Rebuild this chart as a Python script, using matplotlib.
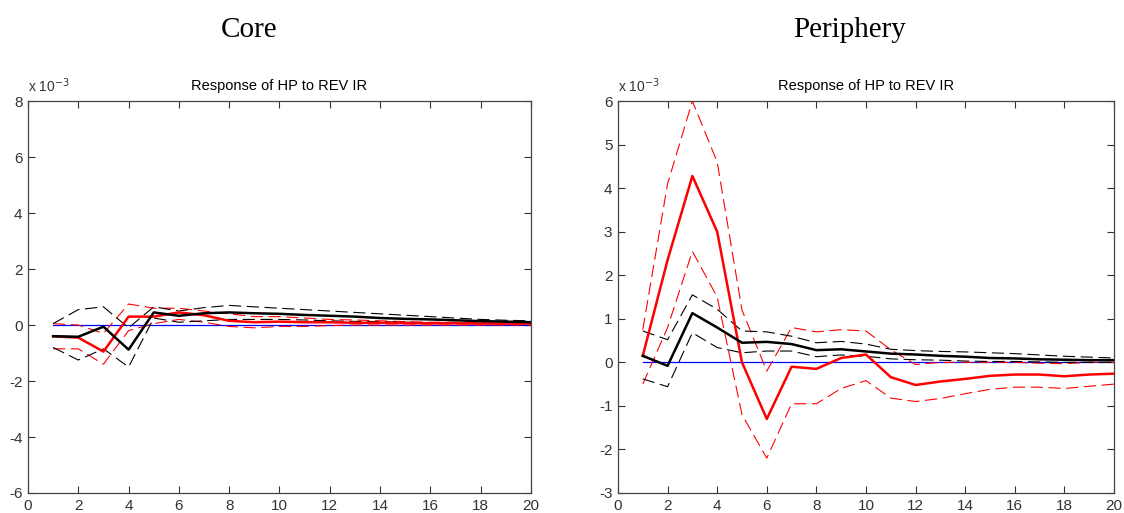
import numpy as np
import matplotlib.pyplot as plt

plt.rcParams['font.family'] = ['Liberation Sans', 'DejaVu Sans']
plt.rcParams['axes.unicode_minus'] = False

horizon = np.arange(1, 21)

# Core (values in units of 1e-3)
core_black = [-0.4, -0.42, -0.06, -0.88, 0.45, 0.33, 0.42, 0.45, 0.42, 0.4,
              0.36, 0.33, 0.3, 0.25, 0.22, 0.2, 0.17, 0.14, 0.12, 0.1]
core_black_hi = [0.05, 0.55, 0.65, -0.1, 0.65, 0.5, 0.62, 0.7, 0.65, 0.6,
                 0.55, 0.5, 0.45, 0.4, 0.35, 0.3, 0.25, 0.2, 0.17, 0.15]
core_black_lo = [-0.8, -1.25, -0.85, -1.5, 0.25, 0.1, 0.15, 0.2, 0.2, 0.2,
                 0.18, 0.15, 0.13, 0.12, 0.1, 0.08, 0.07, 0.06, 0.05, 0.05]
core_red = [-0.4, -0.45, -0.95, 0.3, 0.3, 0.45, 0.35, 0.15, 0.1, 0.12,
            0.1, 0.1, 0.08, 0.08, 0.07, 0.06, 0.06, 0.05, 0.05, 0.05]
core_red_hi = [0.05, 0.0, -0.3, 0.75, 0.6, 0.6, 0.5, 0.4, 0.3, 0.3,
               0.25, 0.2, 0.18, 0.15, 0.12, 0.1, 0.1, 0.08, 0.08, 0.07]
core_red_lo = [-0.85, -0.85, -1.4, -0.2, 0.05, 0.2, 0.1, -0.05, -0.1, -0.05,
               -0.05, -0.02, 0.0, 0.0, 0.0, 0.0, 0.0, 0.0, 0.0, 0.0]

# Periphery (values in units of 1e-3)
peri_black = [0.15, -0.08, 1.13, 0.8, 0.45, 0.47, 0.42, 0.28, 0.3, 0.25,
              0.2, 0.18, 0.15, 0.13, 0.1, 0.09, 0.07, 0.06, 0.05, 0.05]
peri_black_hi = [0.72, 0.52, 1.55, 1.22, 0.72, 0.7, 0.6, 0.45, 0.48, 0.42,
                 0.3, 0.27, 0.25, 0.24, 0.22, 0.2, 0.17, 0.14, 0.12, 0.1]
peri_black_lo = [-0.38, -0.56, 0.68, 0.34, 0.22, 0.26, 0.26, 0.13, 0.17, 0.14,
                 0.08, 0.06, 0.05, 0.03, 0.02, 0.02, 0.01, 0.0, 0.0, 0.0]
peri_red = [0.15, 2.35, 4.28, 3.0, 0.0, -1.3, -0.1, -0.15, 0.1, 0.18,
            -0.34, -0.52, -0.44, -0.38, -0.31, -0.28, -0.28, -0.32, -0.28, -0.26]
peri_red_hi = [0.75, 4.1, 6.0, 4.6, 1.2, -0.2, 0.8, 0.7, 0.75, 0.72,
               0.29, -0.05, 0.0, 0.0, 0.0, 0.0, -0.02, -0.03, 0.0, 0.0]
peri_red_lo = [-0.5, 0.8, 2.55, 1.5, -1.2, -2.2, -0.95, -0.95, -0.6, -0.42,
               -0.82, -0.9, -0.83, -0.72, -0.62, -0.57, -0.57, -0.6, -0.55, -0.5]

fig = plt.figure(figsize=(11.24, 5.13), dpi=100)
ax1 = fig.add_axes([0.0249, 0.039, 0.4475, 0.764])
ax2 = fig.add_axes([0.5498, 0.039, 0.4413, 0.764])

dash = (0, (11, 5))
panels = [
    (ax1, 'Core', 249, (-6, 8), (core_black, core_black_hi, core_black_lo, core_red, core_red_hi, core_red_lo)),
    (ax2, 'Periphery', 850, (-3, 6), (peri_black, peri_black_hi, peri_black_lo, peri_red, peri_red_hi, peri_red_lo)),
]

for ax, name, title_x, ylim, (bk, bk_hi, bk_lo, rd, rd_hi, rd_lo) in panels:
    ax.plot(horizon, np.zeros(len(horizon)), color='blue', lw=0.9)
    ax.plot(horizon, rd_hi, color='red', lw=0.8, ls=dash)
    ax.plot(horizon, rd_lo, color='red', lw=0.8, ls=dash)
    ax.plot(horizon, bk_hi, color='black', lw=0.8, ls=dash)
    ax.plot(horizon, bk_lo, color='black', lw=0.8, ls=dash)
    ax.plot(horizon, rd, color='red', lw=1.8)
    ax.plot(horizon, bk, color='black', lw=1.8)
    ax.set_xlim(0, 20)
    ax.set_ylim(*ylim)
    ax.set_xticks(range(0, 21, 2))
    ax.set_yticks(range(ylim[0], ylim[1] + 1, 2 if name == 'Core' else 1))
    ax.tick_params(direction='in', top=True, right=True, length=5, width=0.8,
                   labelsize=11, colors='#333333', pad=4)
    for s in ax.spines.values():
        s.set_color('#444444')
        s.set_linewidth(0.9)
    ax.set_title('Response of HP to REV IR', fontsize=10.5, pad=8)
    ax.text(0.0, 1.015, r'x 10$^{-3}$', transform=ax.transAxes, fontsize=10,
            color='#333333', va='bottom', ha='left')
    fig.text(title_x / 1124, 1 - 30 / 513, name, ha='center', va='center',
             fontsize=21, family='Liberation Serif')

fig.savefig('out.png', dpi=100)
